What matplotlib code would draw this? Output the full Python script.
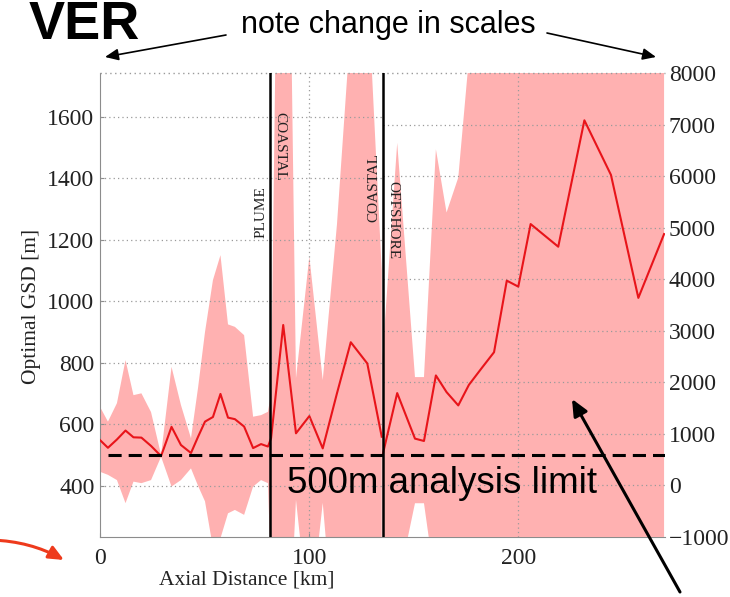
import matplotlib.pyplot as plt

# figure size in pixels (dpi 100)
W, H = 730, 597

# --- plume + coastal section, read on the left axis [m]
km_left = [0, 3.8, 8.1, 12.2, 16.0, 19.8, 24.4, 29.2, 34.2, 38.7, 43.5, 46.9,
           50.2, 54.0, 57.6, 61.2, 64.5, 68.9, 73.2, 77.0, 80.3,
           81.8, 87.6, 93.7, 100.1, 106.5, 113.3, 119.9, 127.8, 134.7]
gsd_left = [549, 524, 551, 580, 558, 557, 530, 497, 592, 533, 507, 560,
            609, 624, 699, 622, 617, 593, 523, 536, 528,
            555, 923, 571, 627, 522, 701, 867, 798, 560]
upper_left = [657, 609, 669, 809, 695, 701, 640, 501, 787, 663, 555, 720,
              900, 1069, 1150, 925, 917, 890, 625, 630, 641,
              700, 3800, 750, 1145, 744, 1250, 1900, 2050, 1100]
lower_left = [446, 436, 419, 344, 414, 409, 419, 495, 398, 419, 457, 400,
              350, 200, 230, 311, 322, 306, 398, 419, 409,
              100, -500, 355, -50, 345, -200, -500, -500, -200]

# --- offshore section, read on the right axis [m]
km_right = [135.1, 142.1, 150.6, 154.9, 160.6, 165.7, 171.3, 176.4, 182.6,
            188.4, 194.5, 200.0, 205.9, 219.1, 231.6, 244.3, 257.4, 269.7]
gsd_right = [581, 1789, 905, 859, 2132, 1808, 1550, 1950, 2280,
             2583, 3973, 3857, 5072, 4632, 7087, 6027, 3638, 4878]
upper_right = [2500, 6650, 2100, 2100, 6525, 5297, 5975, 8300, 9500,
               10500, 11000, 11500, 12000, 12500, 13000, 13000, 12500, 12500]
lower_right = [-1500, -2000, -350, -350, -2000, -2500, -2500, -2500, -3000,
               -3000, -3500, -3500, -4000, -4000, -4500, -4500, -4000, -4000]

# region boundaries [km] and analysis limit [m]
boundaries = [81.5, 135.1]
region_labels = ['PLUME', 'COASTAL', 'COASTAL', 'OFFSHORE']
limit = 500

left_ticks = [400, 600, 800, 1000, 1200, 1400, 1600]
right_ticks = [-1000, 0, 1000, 2000, 3000, 4000, 5000, 6000, 7000, 8000]
x_ticks = [0, 100, 200]

PINK = '#ffb1b1'
RED = '#e8141a'
GRID = '#9a9a9a'
SPINE = '#8c8c8c'
TXT = '#222222'

plt.rcParams['font.family'] = 'Liberation Serif'


def fx(x):
    return x / W


def fy(y):
    return 1 - y / H


fig = plt.figure(figsize=(W / 100, H / 100), dpi=100)
ax = fig.add_axes([fx(100), fy(536.7), 564.7 / W, 463.4 / H])
ax2 = ax.twinx()

ax.set_xlim(0, 270)
ax.set_ylim(235, 1741)
ax2.set_ylim(-1000, 8000)

# left section
ax.fill_between(km_left, lower_left, upper_left, color=PINK, lw=0, zorder=1)
ax.hlines(left_ticks, 0, boundaries[1], colors=GRID, linestyles=(0, (1, 2.5)),
          lw=0.9, zorder=2)
ax.plot(km_left, gsd_left, color=RED, lw=1.5, zorder=3)

# right section
ax2.fill_between(km_right, lower_right, upper_right, color=PINK, lw=0, zorder=1)
ax2.hlines(right_ticks[1:-1], boundaries[1], 270, colors=GRID,
           linestyles=(0, (1, 2.5)), lw=0.9, zorder=2)
ax2.hlines(8000, 0, 270, colors=GRID, linestyles=(0, (1, 2.5)), lw=1.0,
           zorder=2, clip_on=False)
ax2.vlines(x_ticks[1:], -1000, 8000, colors=GRID, linestyles=(0, (1, 2.5)),
           lw=0.9, zorder=2)
ax2.plot(km_right, gsd_right, color=RED, lw=1.5, zorder=3)

# analysis limit (left scale) and region boundaries
ax2.plot([3.8, 270], [limit, limit], transform=ax.transData, color='black',
         lw=2.2, linestyle=(0, (4.3, 2.3)), zorder=4)
for b in boundaries:
    ax2.axvline(b, color='black', lw=1.8, zorder=5)

# axes styling
for a in (ax, ax2):
    a.spines['top'].set_visible(False)
    a.spines['right'].set_visible(False)
ax2.spines['left'].set_visible(False)
ax2.spines['bottom'].set_visible(False)
ax.spines['left'].set_color(SPINE)
ax.spines['bottom'].set_color(SPINE)

ax.set_yticks(left_ticks)
ax.set_xticks(x_ticks)
ax2.set_yticks(right_ticks)
ax.tick_params(axis='y', direction='in', length=3, color=SPINE,
               labelsize=17, labelcolor=TXT, pad=4)
ax.tick_params(axis='x', direction='in', length=3, color=SPINE,
               labelsize=17, labelcolor=TXT, pad=8)
ax2.tick_params(axis='y', direction='in', length=0, labelsize=17,
                labelcolor=TXT, pad=3)

# region labels
fig.text(fx(261.5), fy(212), region_labels[0], rotation=90, ha='center',
         va='center', fontsize=11, color=TXT)
fig.text(fx(279.5), fy(146), region_labels[1], rotation=-90, ha='center',
         va='center', fontsize=11, color=TXT)
fig.text(fx(374), fy(188), region_labels[2], rotation=90, ha='center',
         va='center', fontsize=11, color=TXT)
fig.text(fx(392.5), fy(220), region_labels[3], rotation=-90, ha='center',
         va='center', fontsize=11, color=TXT)

# axis labels
fig.text(fx(32), fy(306), 'Optimal GSD [m]', rotation=90, ha='center',
         va='center', fontsize=15.5, color=TXT)
fig.text(fx(247), fy(580), 'Axial Distance [km]', ha='center', va='center',
         fontsize=15.5, color=TXT)

# slide annotations
fig.text(fx(140), fy(39), 'VER', ha='right', va='baseline', fontsize=39,
         fontweight='bold', family='Liberation Sans', color='black')
fig.text(fx(388), fy(33), 'note change in scales', ha='center',
         va='baseline', fontsize=22, family='Liberation Sans', color='black')
fig.text(fx(441.5), fy(493.3), '500m analysis limit', ha='center',
         va='baseline', fontsize=26.5, family='Liberation Sans', color='black')

arrow_kw = dict(xycoords='figure pixels', textcoords='figure pixels')
ax2.annotate('', xy=(105, H - 57), xytext=(226, H - 35), **arrow_kw,
             arrowprops=dict(arrowstyle='-|>,head_length=0.8,head_width=0.35',
                             color='black', lw=1.2, shrinkA=0, shrinkB=0))
ax2.annotate('', xy=(656, H - 57), xytext=(547, H - 33), **arrow_kw,
             arrowprops=dict(arrowstyle='-|>,head_length=0.8,head_width=0.35',
                             color='black', lw=1.2, shrinkA=0, shrinkB=0))
ax2.annotate('', xy=(572, H - 399), xytext=(680, H - 592), **arrow_kw,
             arrowprops=dict(arrowstyle='-|>,head_length=1.0,head_width=0.45',
                             color='black', lw=2.2, shrinkA=0, shrinkB=0))
ax2.annotate('', xy=(64, H - 560), xytext=(-8, H - 540), **arrow_kw,
             arrowprops=dict(arrowstyle='-|>,head_length=0.9,head_width=0.4',
                             color='#ee3a1c', lw=2.2, shrinkA=0, shrinkB=0,
                             connectionstyle='arc3,rad=-0.12'))

fig.savefig('out.png', dpi=100)
